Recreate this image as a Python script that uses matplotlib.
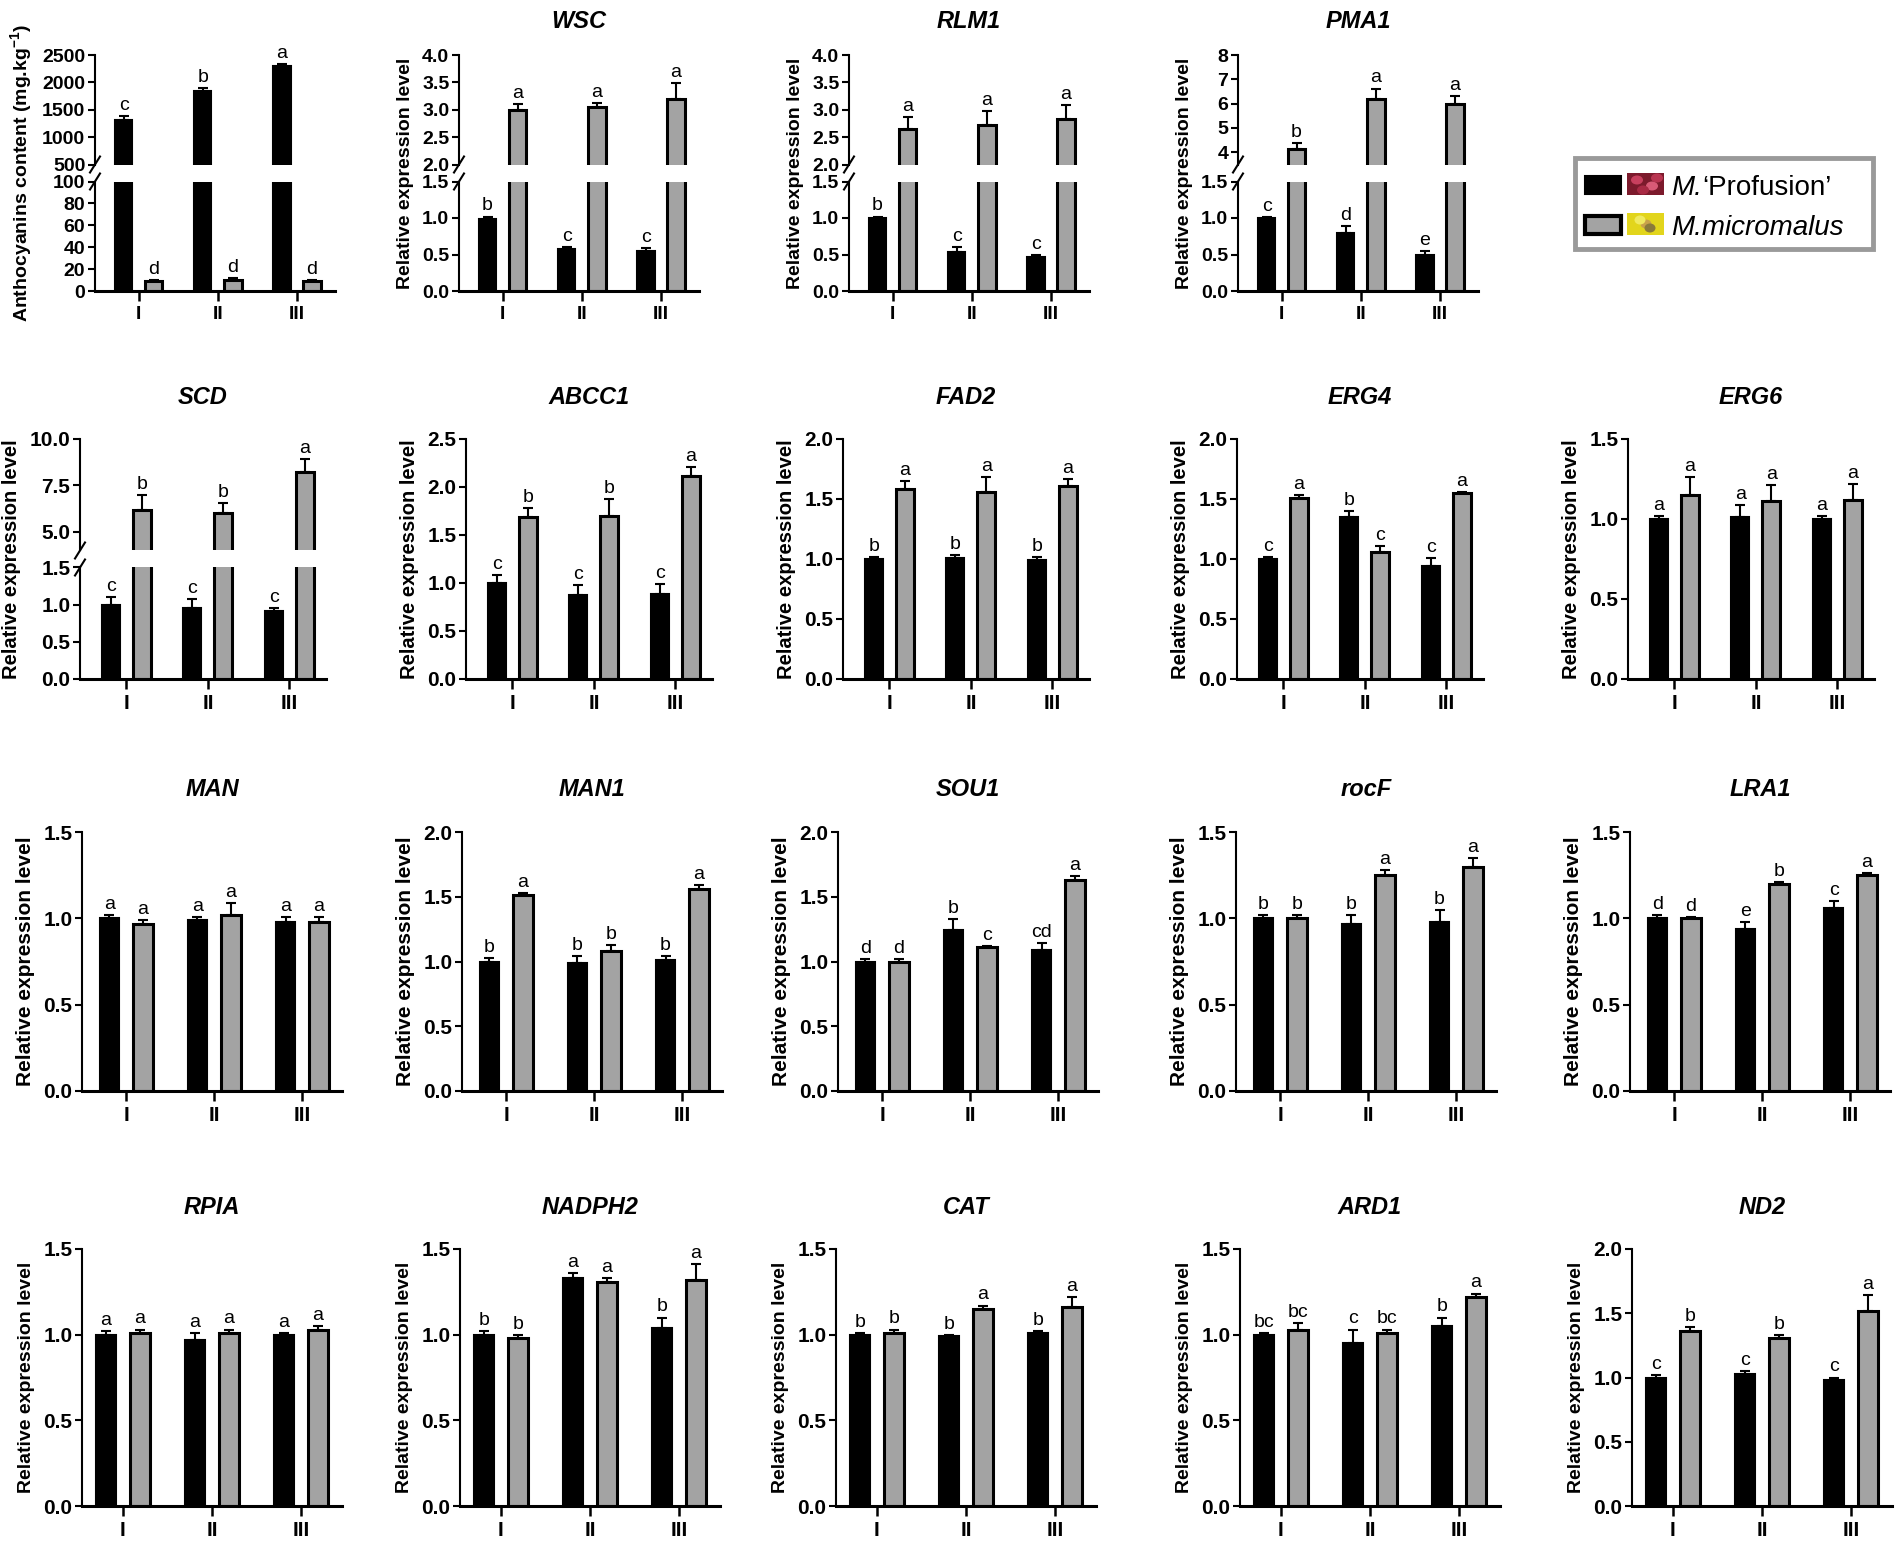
import numpy as np
import matplotlib
matplotlib.use("Agg")
import matplotlib.pyplot as plt
from matplotlib.patches import Rectangle, Ellipse

W, H = 1902, 1549
plt.rcParams.update({
    "font.family": ["Liberation Sans", "DejaVu Sans"],
    "font.weight": "bold",
    "axes.labelweight": "bold",
    "axes.linewidth": 1.5,
    "mathtext.fontset": "custom",
    "mathtext.rm": "Liberation Sans:bold",
    "mathtext.default": "rm",
})

STAGES = ["I", "II", "III"]
BLACK, GRAY = "#000000", "#a3a3a3"

GENES = ["Anthocyanins", "WSC", "RLM1", "PMA1",
         "SCD", "ABCC1", "FAD2", "ERG4", "ERG6",
         "MAN", "MAN1", "SOU1", "rocF", "LRA1",
         "RPIA", "NADPH2", "CAT", "ARD1", "ND2"]

# M.'Profusion' (black bars)
PROF_MEAN = [[1320, 1840, 2300], [0.99, 0.57, 0.55], [1.00, 0.53, 0.47], [1.00, 0.80, 0.49],
             [1.00, 0.95, 0.92], [1.00, 0.87, 0.89], [1.00, 1.01, 0.99], [1.00, 1.35, 0.94],
             [1.00, 1.01, 1.00], [1.00, 0.99, 0.98], [1.00, 0.99, 1.01], [1.00, 1.24, 1.09],
             [1.00, 0.97, 0.98], [1.00, 0.94, 1.06], [1.00, 0.97, 1.00], [1.00, 1.33, 1.04],
             [1.00, 0.99, 1.01], [1.00, 0.95, 1.05], [1.00, 1.03, 0.98]]
PROF_ERR = [[70, 50, 40], [0.03, 0.03, 0.04], [0.02, 0.07, 0.02], [0.01, 0.09, 0.06],
            [0.10, 0.13, 0.04], [0.08, 0.11, 0.10], [0.02, 0.02, 0.03], [0.02, 0.05, 0.07],
            [0.02, 0.08, 0.02], [0.02, 0.02, 0.03], [0.03, 0.05, 0.03], [0.02, 0.09, 0.05],
            [0.02, 0.05, 0.07], [0.02, 0.04, 0.04], [0.02, 0.04, 0.01], [0.02, 0.03, 0.06],
            [0.01, 0.01, 0.01], [0.01, 0.08, 0.05], [0.02, 0.02, 0.02]]
# M.micromalus (grey bars)
MICRO_MEAN = [[9, 10, 9], [2.99, 3.05, 3.19], [2.65, 2.73, 2.83], [4.15, 6.20, 6.00],
              [6.2, 6.0, 8.2], [1.69, 1.70, 2.11], [1.58, 1.56, 1.61], [1.51, 1.06, 1.55],
              [1.15, 1.11, 1.12], [0.97, 1.02, 0.98], [1.51, 1.08, 1.56], [1.00, 1.11, 1.63],
              [1.00, 1.25, 1.30], [1.00, 1.20, 1.25], [1.01, 1.01, 1.03], [0.98, 1.31, 1.32],
              [1.01, 1.15, 1.16], [1.03, 1.01, 1.22], [1.36, 1.31, 1.52]]
MICRO_ERR = [[1, 1.5, 1], [0.11, 0.07, 0.30], [0.22, 0.25, 0.25], [0.25, 0.42, 0.30],
             [0.8, 0.55, 0.7], [0.09, 0.17, 0.10], [0.07, 0.12, 0.06], [0.02, 0.05, 0.01],
             [0.11, 0.10, 0.10], [0.02, 0.07, 0.03], [0.02, 0.05, 0.03], [0.02, 0.01, 0.03],
             [0.02, 0.03, 0.05], [0.01, 0.01, 0.01], [0.02, 0.02, 0.02], [0.02, 0.02, 0.09],
             [0.02, 0.02, 0.06], [0.04, 0.02, 0.02], [0.03, 0.02, 0.12]]
PROF_LET = [["c", "b", "a"], ["b", "c", "c"], ["b", "c", "c"], ["c", "d", "e"],
            ["c", "c", "c"], ["c", "c", "c"], ["b", "b", "b"], ["c", "b", "c"],
            ["a", "a", "a"], ["a", "a", "a"], ["b", "b", "b"], ["d", "b", "cd"],
            ["b", "b", "b"], ["d", "e", "c"], ["a", "a", "a"], ["b", "a", "b"],
            ["b", "b", "b"], ["bc", "c", "b"], ["c", "c", "c"]]
MICRO_LET = [["d", "d", "d"], ["a", "a", "a"], ["a", "a", "a"], ["b", "a", "a"],
             ["b", "b", "a"], ["b", "b", "a"], ["a", "a", "a"], ["a", "c", "a"],
             ["a", "a", "a"], ["a", "a", "a"], ["a", "b", "a"], ["d", "c", "a"],
             ["b", "a", "a"], ["d", "b", "a"], ["a", "a", "a"], ["b", "a", "a"],
             ["b", "a", "a"], ["bc", "bc", "a"], ["b", "b", "a"]]

# lower (or only) y axis
YMAX = [100, 1.5, 1.5, 1.5, 1.5, 2.5, 2.0, 2.0, 1.5, 1.5, 2.0, 2.0, 1.5, 1.5,
        1.5, 1.5, 1.5, 1.5, 2.0]
YSTEP = [20] + [0.5] * 18
# broken panels: upper segment
BROKEN = ["Anthocyanins", "WSC", "RLM1", "PMA1", "SCD"]
UP_LIM = [(500, 2500), (2.0, 4.0), (2.0, 4.0), (3.5, 8.0), (4.0, 10.0)]
UP_TICKS = [[500, 1000, 1500, 2000, 2500], [2.0, 2.5, 3.0, 3.5, 4.0],
            [2.0, 2.5, 3.0, 3.5, 4.0], [4, 5, 6, 7, 8], [5.0, 7.5, 10.0]]

YLABEL = "Relative expression level"
YLABEL_ANTHO = "Anthocyanins content (mg.kg$^{-1}$)"

# layout in pixels: left per panel, width / (top, bottom) / title centre per row
ROW_LEFT = [[95, 459, 849, 1238], [80, 466, 843, 1237, 1628],
            [82, 462, 838, 1236, 1630], [82, 460, 836, 1240, 1632]]
ROW_WIDTH = [240, 246, 260, 260]
ROW_Y = [(55, 291), (439, 679), (832, 1091), (1249, 1506)]
ROW_TITLE_Y = [21, 398, 790, 1208]
ROW_XLIM = [(-0.55, 2.48), (-0.57, 2.45), (-0.5, 2.45), (-0.46, 2.46)]
ROW_FS = [(14, 14), (15, 14.5), (15, 15), (15, 14)]
GAP = 17
OFF, BW = 0.19, 0.22

fig = plt.figure(figsize=(W / 100, H / 100), dpi=100)


def px_axes(left, top, width, height):
    return fig.add_axes([left / W, 1 - (top + height) / H, width / W, height / H])


def fmt_ticks(ticks):
    if all(float(t).is_integer() for t in ticks) and ticks[1] - ticks[0] >= 1:
        return [f"{t:.0f}" for t in ticks]
    return [f"{t:.1f}" for t in ticks]


def style(ax, xaxis, row):
    tfs = ROW_FS[row][0]
    ax.spines[["top", "right"]].set_visible(False)
    ax.spines["left"].set_linewidth(1.5)
    ax.tick_params(axis="y", length=5, width=1.5, labelsize=tfs, pad=2)
    ax.set_xlim(*ROW_XLIM[row])
    if xaxis:
        ax.spines["bottom"].set_linewidth(2.2)
        ax.set_xticks(range(3), STAGES)
        ax.tick_params(axis="x", length=7, width=1.8, labelsize=tfs, pad=4)
    else:
        ax.spines["bottom"].set_visible(False)
        ax.tick_params(axis="x", bottom=False, labelbottom=False)


def draw_bars(ax, i):
    x = np.arange(3)
    ax.bar(x - OFF, PROF_MEAN[i], BW, color=BLACK, edgecolor=BLACK, linewidth=1.5, zorder=2)
    ax.bar(x + OFF, MICRO_MEAN[i], BW, color=GRAY, edgecolor=BLACK, linewidth=2.2, zorder=2)
    for dx, mean, err in ((-OFF, PROF_MEAN[i], PROF_ERR[i]), (OFF, MICRO_MEAN[i], MICRO_ERR[i])):
        ax.errorbar(x + dx, mean, yerr=[[0, 0, 0], err], fmt="none", ecolor=BLACK,
                    elinewidth=1.5, capsize=3.5, capthick=1.5, zorder=1)


def put_letters(axes_for, i):
    for k in range(3):
        for dx, mean, err, lets in ((-OFF, PROF_MEAN, PROF_ERR, PROF_LET),
                                    (OFF, MICRO_MEAN, MICRO_ERR, MICRO_LET)):
            top = mean[i][k] + err[i][k]
            ax = axes_for(top)
            ax.annotate(lets[i][k], (k + dx, top), xytext=(0, 1.5), textcoords="offset points",
                        ha="center", va="bottom", fontsize=14, fontweight="normal",
                        annotation_clip=False)


def break_mark(ax, y, width, height):
    dx, dy = 5 / width, 8 / height
    ax.plot([-dx, dx], [y - dy, y + dy], transform=ax.transAxes, color=BLACK,
            lw=1.5, clip_on=False)


panel = 0
for row, lefts in enumerate(ROW_LEFT):
    top, bottom = ROW_Y[row]
    width = ROW_WIDTH[row]
    tfs, lfs = ROW_FS[row]
    for left in lefts:
        i = panel
        gene = GENES[i]
        label = YLABEL_ANTHO if gene == "Anthocyanins" else YLABEL
        low_ticks = list(np.arange(0, YMAX[i] + 1e-9, YSTEP[i]))
        if gene in BROKEN:
            b = BROKEN.index(gene)
            hh = (bottom - top - GAP) / 2
            ax_up = px_axes(left, top, width, hh)
            ax_lo = px_axes(left, top + hh + GAP, width, hh)
            for ax in (ax_up, ax_lo):
                draw_bars(ax, i)
            up_labels = fmt_ticks(UP_TICKS[b])
            lo_labels = fmt_ticks(low_ticks)
            ax_up.set_ylim(*UP_LIM[b])
            ax_up.set_yticks(UP_TICKS[b], up_labels)
            ax_lo.set_ylim(0, YMAX[i])
            ax_lo.set_yticks(low_ticks, lo_labels)
            style(ax_up, False, row)
            style(ax_lo, True, row)
            break_mark(ax_up, 0, width, hh)
            break_mark(ax_lo, 1, width, hh)
            put_letters(lambda t: ax_up if t > YMAX[i] else ax_lo, i)
            # label goes on the half with the wider tick labels, centred on both
            if max(map(len, up_labels)) >= max(map(len, lo_labels)):
                ax_up.set_ylabel(label, fontsize=lfs, labelpad=6)
                ax_up.yaxis.label.set_y(1 - (2 * hh + GAP) / (2 * hh))
            else:
                ax_lo.set_ylabel(label, fontsize=lfs, labelpad=6)
                ax_lo.yaxis.label.set_y((2 * hh + GAP) / (2 * hh))
        else:
            ax = px_axes(left, top, width, bottom - top)
            draw_bars(ax, i)
            ax.set_ylim(0, YMAX[i])
            ax.set_yticks(low_ticks, fmt_ticks(low_ticks))
            style(ax, True, row)
            put_letters(lambda t: ax, i)
            ax.set_ylabel(label, fontsize=lfs, labelpad=6)
        if gene != "Anthocyanins":
            fig.text((left + width / 2) / W, 1 - ROW_TITLE_Y[row] / H, gene, fontsize=17,
                     fontweight="bold", fontstyle="italic", ha="center", va="center")
        panel += 1

# legend drawn in pixel coordinates
lg = fig.add_axes([0, 0, 1, 1])
lg.set_xlim(0, W)
lg.set_ylim(H, 0)
lg.axis("off")
lg.add_patch(Rectangle((1575, 158), 298, 91, facecolor="white", edgecolor="#9a9a9a", lw=3.5))
lg.add_patch(Rectangle((1585, 176), 36, 18, facecolor=BLACK, edgecolor=BLACK, lw=1.5))
lg.add_patch(Rectangle((1585, 216), 36, 18, facecolor=GRAY, edgecolor=BLACK, lw=3))
# flower thumbnails
lg.add_patch(Rectangle((1627, 173), 37, 22, facecolor="#7c1a2c", edgecolor="none"))
for cx, cy, c in ((1637, 180, "#c8405e"), (1652, 186, "#d85a76"), (1643, 190, "#a82a44"),
                  (1657, 178, "#b83450")):
    lg.add_patch(Ellipse((cx, cy), 12, 9, facecolor=c, edgecolor="none"))
lg.add_patch(Rectangle((1627, 213), 37, 22, facecolor="#e2d51c", edgecolor="none"))
for cx, cy, c in ((1646, 224, "#c9a24a"), (1640, 220, "#f0ea60"), (1650, 228, "#8a7a3a")):
    lg.add_patch(Ellipse((cx, cy), 11, 9, facecolor=c, edgecolor="none"))
t1 = lg.text(1671, 195, "M.", fontsize=20, fontweight="normal", fontstyle="italic",
             va="baseline", ha="left")
lg.annotate("\u2018Profusion\u2019", xy=(1, 0), xycoords=t1, fontsize=20,
            fontweight="normal", va="bottom", ha="left")
lg.text(1671, 235, "M.micromalus", fontsize=20, fontweight="normal", fontstyle="italic",
        va="baseline", ha="left")

fig.savefig("out.png", dpi=100)
